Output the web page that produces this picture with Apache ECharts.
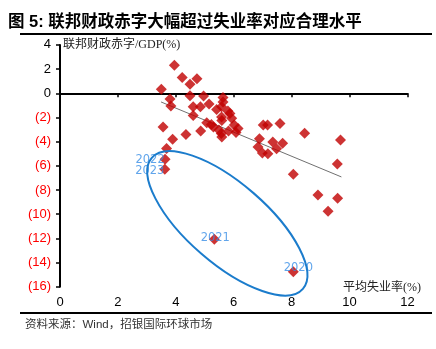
<!DOCTYPE html>
<html>
<head>
<meta charset="utf-8">
<script src="https://cdn.jsdelivr.net/npm/echarts@6/dist/echarts.min.js"></script>
<style>
html,body{margin:0;padding:0;background:#fff;}
#chart{width:436px;height:349px;}
</style>
</head>
<body>
<div id="chart"></div>
<script>
// ---- Data (unemployment rate %, federal deficit/GDP %) ----
var unemp = [3.95,4.22,4.73,4.49,3.50,3.80,4.49,4.96,5.63,5.63,3.83,4.60,4.85,5.15,5.41,5.58,5.80,5.87,4.60,5.58,5.59,5.93,3.56,4.35,4.86,5.07,5.23,5.30,5.49,5.57,5.59,5.82,6.02,6.15,6.08,3.89,3.68,7.02,7.17,7.60,8.45,6.89,6.84,7.35,7.69,7.48,6.99,7.18,9.69,9.58,8.06,8.91,9.59,9.26];
var deficit = [2.32,1.31,1.21,0.74,0.33,-0.47,-0.20,-0.22,-0.36,-0.72,-1.05,-1.11,-1.11,-0.88,-1.34,-1.11,-1.46,-1.67,-1.84,-1.96,-2.25,-2.07,-2.79,-3.41,-3.12,-2.43,-2.58,-2.79,-3.04,-3.32,-3.61,-3.12,-2.62,-2.91,-3.24,-3.80,-4.57,-2.62,-2.62,-2.51,-3.31,-3.76,-4.44,-4.04,-4.14,-4.58,-4.94,-5.00,-3.86,-5.86,-6.70,-8.41,-8.68,-9.76];
var years = ['2022','2023','2021','2020'];
var yearUnemp = [3.63,3.62,5.33,8.06];
var yearDeficit = [-5.46,-6.29,-12.08,-14.76];
var trendX = [3.49,9.72];
var trendY = [-0.72,-6.92];
var ellipseAxisX = [3.17,8.39];
var ellipseAxisY = [-5.34,-16.18];
var xTicks = [0,2,4,6,8,10,12];
var yTicks = [-16,-14,-12,-10,-8,-6,-4,-2,0,2,4];

var yearLabelOffsets = [[-15,1],[-15,2],[1,-1],[5,-4]];

var chart = echarts.init(document.getElementById('chart'), null, {renderer:'canvas'});

var mainPts = unemp.map(function(v,i){return [v, deficit[i]];});
var yearPts = years.map(function(n,i){
  return {name:n, value:[yearUnemp[i], yearDeficit[i]],
    label:{show:true, formatter:n, position:'inside', offset:yearLabelOffsets[i]}};
});

var option = {
  animation:false,
  backgroundColor:'#fff',
  grid:{left:60, right:28.6, top:44.9, bottom:62.3, containLabel:false},
  xAxis:[{
    type:'value', min:xTicks[0], max:xTicks[xTicks.length-1], interval:2, position:'bottom',
    axisLine:{show:false, onZero:false}, axisTick:{show:false}, splitLine:{show:false},
    axisLabel:{color:'#000', fontSize:13, margin:9, fontFamily:'Liberation Sans, Arial, sans-serif'}
  },{
    type:'value', min:xTicks[0], max:xTicks[xTicks.length-1], interval:2, position:'top',
    axisLine:{show:true, onZero:true, lineStyle:{color:'#000', width:2}},
    axisTick:{show:true, inside:true, length:4, lineStyle:{color:'#000', width:1.5}},
    axisLabel:{show:false}, splitLine:{show:false}
  }],
  yAxis:{
    type:'value', min:yTicks[0], max:yTicks[yTicks.length-1], interval:2,
    axisLine:{show:true, onZero:false, lineStyle:{color:'#000', width:2}},
    axisTick:{show:true, length:4, lineStyle:{color:'#000', width:1.5}},
    splitLine:{show:false},
    axisLabel:{fontSize:13, margin:9, fontFamily:'Liberation Sans, Arial, sans-serif',
      formatter:function(v){ return v<0 ? '{r|('+(-v)+')}' : '{b|'+v+'}'; },
      rich:{r:{color:'#ff0000', fontSize:13, fontFamily:'Liberation Sans, Arial, sans-serif'},
            b:{color:'#000', fontSize:13, fontFamily:'Liberation Sans, Arial, sans-serif'}}}
  },
  graphic:[
    {type:'text', left:8, top:14, style:{text:'图 5: 联邦财政赤字大幅超过失业率对应合理水平', font:'bold 16.5px "Liberation Sans", "Noto Sans CJK SC", sans-serif', fill:'#000'}},
    {type:'rect', left:20, top:33, shape:{width:412, height:2}, style:{fill:'#000'}},
    {type:'text', left:63, top:39, style:{text:'联邦财政赤字/GDP(%)', font:'12px "Liberation Serif", "Noto Sans CJK SC", serif', fill:'#222'}},
    {type:'text', left:343, top:282, style:{text:'平均失业率(%)', font:'12px "Liberation Serif", "Noto Sans CJK SC", serif', fill:'#222'}},
    {type:'rect', left:20, top:312, shape:{width:412, height:2}, style:{fill:'#000'}},
    {type:'text', left:25, top:319, style:{text:'资料来源：Wind，招银国际环球市场', font:'11.5px "Liberation Sans", "Noto Sans CJK SC", sans-serif', fill:'#333'}}
  ],
  series:[
    {
      type:'line', xAxisIndex:0, data:trendX.map(function(v,i){return [v,trendY[i]];}),
      showSymbol:false, symbol:'none', lineStyle:{color:'#707070', width:1}, z:2
    },
    {
      type:'scatter', xAxisIndex:0, data:mainPts, symbol:'diamond', symbolSize:11,
      itemStyle:{color:'#c00000'}, z:3
    },
    {
      type:'scatter', xAxisIndex:0, data:yearPts, symbol:'diamond', symbolSize:11,
      itemStyle:{color:'#c00000'}, z:3,
      label:{show:true, color:'#3a8ee6', fontSize:11.5, fontFamily:'DejaVu Sans, sans-serif'}
    },
    {
      type:'custom', xAxisIndex:0, z:4, clip:false,
      data:[[ellipseAxisX[0], ellipseAxisY[0]]],
      renderItem:function(params, api){
        var p1 = api.coord([ellipseAxisX[0], ellipseAxisY[0]]);
        var p2 = api.coord([ellipseAxisX[1], ellipseAxisY[1]]);
        var cx=(p1[0]+p2[0])/2, cy=(p1[1]+p2[1])/2;
        var dx=p2[0]-p1[0], dy=p2[1]-p1[1];
        var rx=Math.sqrt(dx*dx+dy*dy)/2;
        return {type:'ellipse', x:cx, y:cy, rotation:-Math.atan2(dy,dx),
          shape:{cx:0, cy:0, rx:rx, ry:40},
          style:{fill:'none', stroke:'#1b7ccc', lineWidth:2}};
      }
    }
  ]
};
chart.setOption(option);
</script>
</body>
</html>
